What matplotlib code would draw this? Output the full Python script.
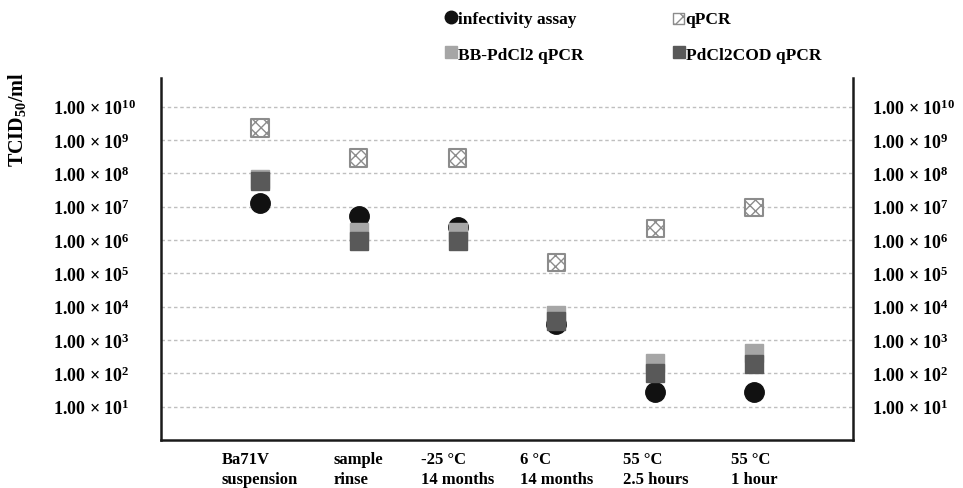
import matplotlib
matplotlib.use("Agg")
import matplotlib.pyplot as plt
import matplotlib.transforms as mtransforms
import numpy as np
from matplotlib.lines import Line2D

plt.rcParams['font.family'] = ['Liberation Serif', 'DejaVu Serif']
plt.rcParams['font.weight'] = 'bold'
plt.rcParams['mathtext.default'] = 'regular'
plt.rcParams['hatch.linewidth'] = 1.0

categories = ["Ba71V\nsuspension", "sample\nrinse", "-25 °C\n14 months",
              "6 °C\n14 months", "55 °C\n2.5 hours", "55 °C\n1 hour"]
infectivity = [1.3e7, 5.3e6, 2.5e6, 3.0e3, 27, 27]
qpcr = [2.3e9, 2.9e8, 2.9e8, 2.1e5, 2.2e6, 9.3e6]
bb_pdcl2 = [7.0e7, 1.7e6, 1.7e6, 5.6e3, 2.0e2, 4.2e2]
pdcl2cod = [5.9e7, 9.1e5, 9.1e5, 3.6e3, 1.0e2, 1.9e2]
exponents = list(range(1, 11))

fig = plt.figure(figsize=(9.63, 4.89), dpi=100)
ax = fig.add_axes([0.1672, 0.0982, 0.7186, 0.7402])

x = np.arange(1, len(categories) + 1)

ax.plot(x, infectivity, 'o', ms=14, color='#111111', zorder=3)
ax.plot(x, bb_pdcl2, 's', ms=13.5, color='#a6a6a6', zorder=4)
ax.plot(x, pdcl2cod, 's', ms=13.5, color='#595959', zorder=5)
ax.scatter(x, qpcr, marker='s', s=12.5 ** 2, facecolor='white', edgecolor='#8c8c8c',
           hatch='xxx', linewidths=1.5, zorder=6)

ax.set_yscale('log')
ax.set_ylim(1, 10 ** 10.86)
ax.set_xlim(0, 7)
ax.set_yticks([10.0 ** e for e in exponents])
ax.set_yticklabels([r"1.00 × 10$^{%d}$" % e for e in exponents])
ax.minorticks_off()
ax.set_xticks(x)
ax.set_xticklabels(categories, fontsize=12, multialignment='left', linespacing=1.3)

ax.tick_params(axis='y', length=0, labelsize=13, labelright=True, pad=78)
for t in ax.yaxis.get_major_ticks():
    t.label1.set_horizontalalignment('left')
ax.tick_params(axis='x', length=0, pad=8)
# right-side labels closer to the axis
offset = mtransforms.ScaledTranslation(-64 / 72, 0, fig.dpi_scale_trans)
for t in ax.yaxis.get_major_ticks():
    t.label2.set_transform(t.label2.get_transform() + offset)

ax.grid(axis='y', color='#bfbfbf', linestyle=(0, (2.5, 2)), linewidth=1)
ax.set_axisbelow(True)

ax.spines['top'].set_visible(False)
for side in ['left', 'bottom', 'right']:
    ax.spines[side].set_linewidth(1.8)
    ax.spines[side].set_color('#1a1a1a')

ax.set_ylabel("TCID$_{50}$/ml", fontsize=14.5, fontweight='bold')
ax.yaxis.set_label_coords(-0.192, 0.887)

qpcr_handle = ax.scatter([], [], marker='s', s=8 ** 2, facecolor='white',
                         edgecolor='#8c8c8c', hatch='xx', linewidths=1)
handles = [
    Line2D([], [], marker='o', ls='', color='#111111', ms=9),
    Line2D([], [], marker='s', ls='', color='#a6a6a6', ms=9),
    qpcr_handle,
    Line2D([], [], marker='s', ls='', color='#595959', ms=9),
]
labels = ["infectivity assay", "BB-PdCl2 qPCR", "qPCR", "PdCl2COD qPCR"]
fig.legend(handles, labels, ncol=2, loc='upper left', bbox_to_anchor=(0.450, 1.0),
           frameon=False, fontsize=12.5, handlelength=0.6, handletextpad=0.1,
           columnspacing=5.2, labelspacing=1.1, borderpad=0.2, scatterpoints=1)

fig.savefig("out.png", dpi=100)
